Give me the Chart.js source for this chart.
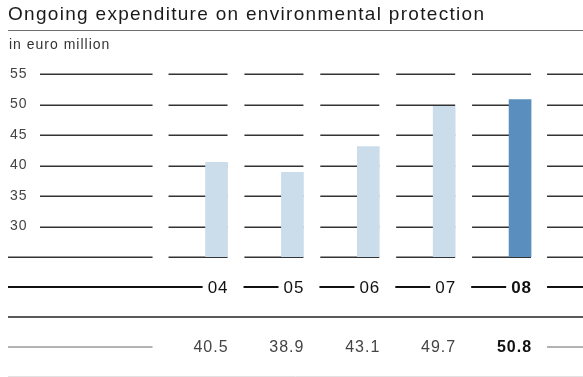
<!DOCTYPE html>
<html>
<head>
<meta charset="utf-8">
<script src="https://cdn.jsdelivr.net/npm/chart.js@4/dist/chart.umd.min.js"></script>
<style>
  html, body { margin: 0; padding: 0; background: #fff; }
  #wrap { position: relative; width: 583px; height: 377px; overflow: hidden; font-family: "Liberation Sans", Arial, sans-serif; }
  #title { position: absolute; left: 8px; top: 3px; font-size: 19px; letter-spacing: 1.3px; color: #1a1a1a; white-space: nowrap; }
  #rule { position: absolute; left: 8px; top: 30px; width: 575px; height: 0; border-top: 1.5px solid #6e6e6e; }
  #unit { position: absolute; left: 9px; top: 36px; font-size: 14px; letter-spacing: 1px; color: #333; white-space: nowrap; }
  canvas { position: absolute; left: 0; top: 0; }
</style>
</head>
<body>
<div id="wrap">
  <canvas id="chart" width="583" height="377"></canvas>
  <div id="title">Ongoing expenditure on environmental protection</div>
  <div id="rule"></div>
  <div id="unit">in euro million</div>
</div>
<script>
// Years shown on the category axis
const years = ['04', '05', '06', '07', '08'];
// Ongoing expenditure per year, euro million
const expenditure = [40.5, 38.9, 43.1, 49.7, 50.8];
// Value axis range and step
const axisMin = 25;
const axisMax = 55;
const axisStep = 5;
// Index of the emphasised (latest) year
const highlightIndex = 4;

const FONT = '"Liberation Sans", Arial, sans-serif';
const BAR_W = 22;
const W = 583;

function line(ctx, x1, x2, y, width, color) {
  ctx.save();
  ctx.strokeStyle = color;
  ctx.lineWidth = width;
  ctx.beginPath();
  ctx.moveTo(x1, y);
  ctx.lineTo(x2, y);
  ctx.stroke();
  ctx.restore();
}

// Broken horizontal grid: one segment per column, ending at the bar's right edge
const brokenGrid = {
  id: 'brokenGrid',
  beforeDraw(chart) {
    // slightly open tracking for every canvas label
    chart.ctx.letterSpacing = '1px';
  },
  beforeDatasetsDraw(chart) {
    const ctx = chart.ctx;
    const xs = chart.scales.x, ys = chart.scales.y;
    const centers = years.map((_, i) => xs.getPixelForValue(i));
    for (let v = axisMin; v <= axisMax; v += axisStep) {
      const y = Math.round(ys.getPixelForValue(v)) + 0.25;
      const first = centers[0] + BAR_W / 2 - 59 - 16;
      line(ctx, v === axisMin ? 8 : 40, first, y, 1.5, '#333');
      centers.forEach(c => line(ctx, c + BAR_W / 2 - 59, c + BAR_W / 2, y, 1.5, '#333'));
      line(ctx, centers[centers.length - 1] + BAR_W / 2 + 16, W, y, 1.5, '#333');
    }
  },
  afterDraw(chart) {
    const ctx = chart.ctx;
    const xs = chart.scales.x;
    const rights = years.map((_, i) => xs.getPixelForValue(i) + BAR_W / 2);

    ctx.save();
    ctx.letterSpacing = '1px';
    ctx.textBaseline = 'middle';
    ctx.textAlign = 'right';

    // Year row with leader lines
    const yearY = 287;
    let start = 8;
    years.forEach((yr, i) => {
      const bold = i === highlightIndex;
      ctx.font = (bold ? 'bold ' : '') + '17px ' + FONT;
      const w = ctx.measureText(yr).width;
      line(ctx, start, rights[i] - w - 4, yearY, 2, '#111');
      ctx.fillStyle = '#111';
      ctx.fillText(yr, rights[i] + 1, yearY + 1);
      start = rights[i] + 16;
    });
    line(ctx, start, W, yearY, 2, '#111');

    // Rule between year row and values row
    line(ctx, 8, W, 317, 1.5, '#222');

    // Values row
    const valY = 347;
    line(ctx, 8, rights[0] - 59 - 16, valY, 1, '#666');
    expenditure.forEach((v, i) => {
      const bold = i === highlightIndex;
      ctx.font = (bold ? 'bold ' : '') + '16px ' + FONT;
      ctx.fillStyle = bold ? '#111' : '#444';
      ctx.fillText(v.toFixed(1), rights[i] + 1, valY + 1);
    });
    line(ctx, rights[rights.length - 1] + 16, W, valY, 1, '#666');

    // Closing hairline
    line(ctx, 8, W, 376.5, 1, '#e2e2e2');
    ctx.restore();
  }
};

new Chart(document.getElementById('chart'), {
  type: 'bar',
  data: {
    labels: years,
    datasets: [{
      data: expenditure,
      backgroundColor: expenditure.map((_, i) => i === highlightIndex ? '#5a8ebf' : '#cbdcea'),
      barThickness: BAR_W,
      borderWidth: 0
    }]
  },
  options: {
    responsive: false,
    animation: false,
    devicePixelRatio: 1,
    layout: { padding: { left: 10, right: 25, top: 74, bottom: 120 } },
    plugins: { legend: { display: false }, tooltip: { enabled: false } },
    scales: {
      x: { display: false, offset: true },
      y: {
        min: axisMin,
        max: axisMax,
        grid: { display: false },
        border: { display: false },
        afterFit(scale) { scale.width = 168.6; },
        ticks: {
          stepSize: axisStep,
          crossAlign: 'far',
          padding: 0,
          color: '#444',
          font: { family: FONT, size: 14 },
          callback: v => (v === axisMin ? '' : v)
        }
      }
    }
  },
  plugins: [brokenGrid]
});
</script>
</body>
</html>
